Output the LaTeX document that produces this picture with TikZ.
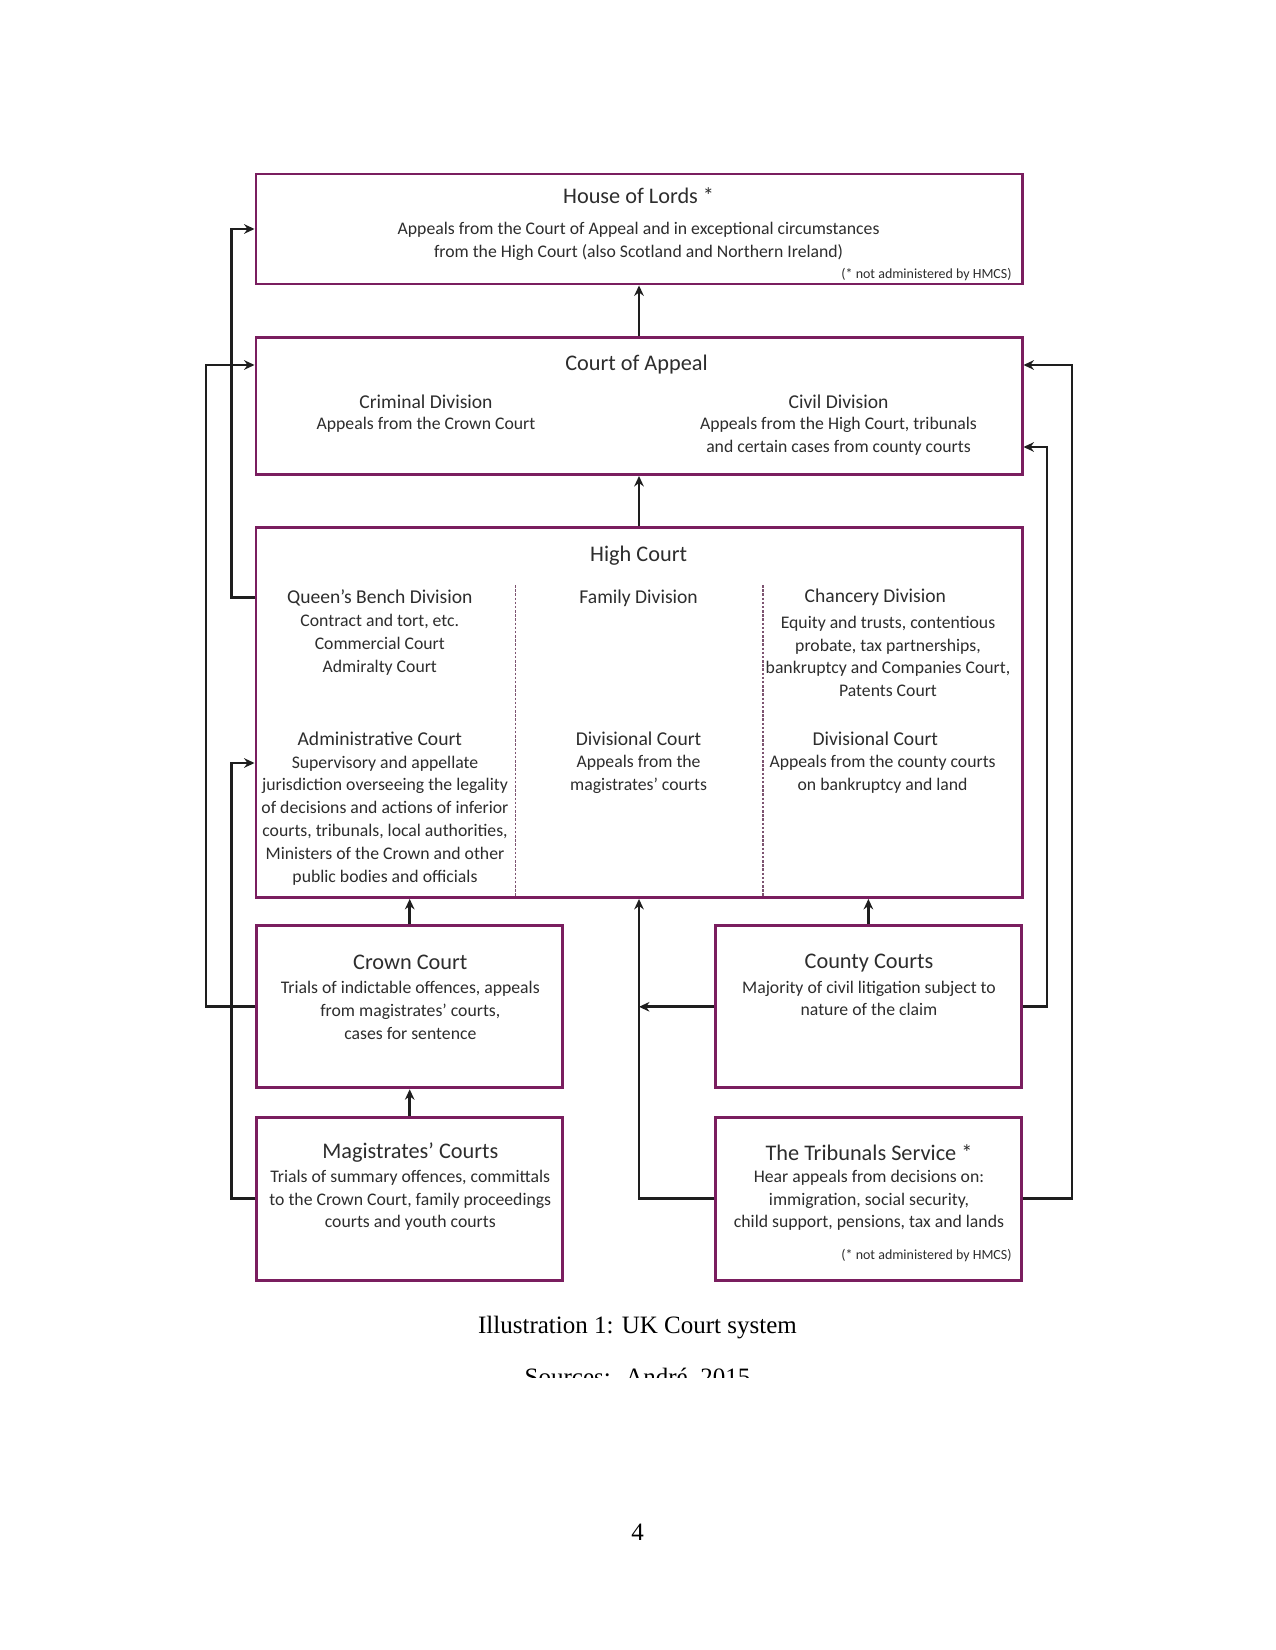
\documentclass[tikz,border=0pt]{standalone}
\usepackage{fontspec}
\setmainfont{Liberation Serif}
\newfontfamily\gill{Carlito}
\usetikzlibrary{arrows.meta}
\definecolor{boxpurple}{RGB}{122,30,95}
\definecolor{txt}{RGB}{45,45,45}
\definecolor{lin}{RGB}{30,30,30}
\begin{document}
\begin{tikzpicture}[x=0.48pt,y=-0.48pt,
  box/.style={draw=boxpurple,line width=1.4pt,inner sep=0pt,fill=white},
  arr/.style={draw=lin,line width=1.3pt,-{Stealth[length=5pt,width=4.6pt]}},
  divider/.style={draw=boxpurple!45!gray,line width=0.8pt,dash pattern=on 1.2pt off 0.8pt},
  ttl/.style={font=\gill\fontsize{10.7}{12}\selectfont,text=txt,inner sep=0pt},
  sub/.style={font=\gill\fontsize{9.4}{11}\selectfont,text=txt,inner sep=0pt},
  body/.style={font=\gill\fontsize{8.5}{11}\selectfont,text=txt,inner sep=0pt,align=center},
  note/.style={font=\gill\fontsize{6.7}{8}\selectfont,text=txt,inner sep=0pt,anchor=east}]
\useasboundingbox (0,0) rectangle (1275,1650);
\fill[white] (0,0) rectangle (1275,1650);

% boxes
\node[box,minimum width=367.7pt,minimum height=52.8pt] (hol) at (639,229) {};
\node[box,minimum width=367.7pt,minimum height=65.7pt] (coa) at (639,406.1) {};
\node[box,minimum width=367.7pt,minimum height=177.4pt] (high) at (639,712.7) {};
\node[box,minimum width=146.9pt,minimum height=77.8pt] (crown) at (409.7,1006.8) {};
\node[box,minimum width=146.9pt,minimum height=77.8pt] (county) at (868.4,1006.8) {};
\node[box,minimum width=146.9pt,minimum height=78.2pt] (mag) at (409.7,1198.8) {};
\node[box,minimum width=146.9pt,minimum height=78.2pt] (trib) at (868.4,1198.8) {};

% House of Lords
\node[ttl] (holt) at (638.6,195.7) {House of Lords *};
\node[body] (holb) at (638.6,241) {Appeals from the Court of Appeal and in exceptional circumstances\\from the High Court (also Scotland and Northern Ireland)};
\node[note] (holn) at (1012,274.6) {(* not administered by HMCS)};

% Court of Appeal
\node[ttl] (coat) at (636.5,365) {Court of Appeal};
\node[sub] (crimt) at (426,402) {Criminal Division};
\node[body] (crimb) at (426,425) {Appeals from the Crown Court};
\node[sub] (civt) at (838.5,402) {Civil Division};
\node[body] (civb) at (838.5,436.6) {Appeals from the High Court, tribunals\\and certain cases from county courts};

% High Court
\node[ttl] (hight) at (638.6,555.5) {High Court};
\node[sub] (qbt) at (379.8,597.5) {Queen’s Bench Division};
\node[body] (qbb) at (379.8,644.9) {Contract and tort, etc.\\Commercial Court\\Admiralty Court};
\node[sub] (famt) at (638.6,598.6) {Family Division};
\node[sub] (chat) at (875.3,597.5) {Chancery Division};
\node[body] (chab) at (888,656.4) {Equity and trusts, contentious\\probate, tax partnerships,\\bankruptcy and Companies Court,\\Patents Court};
\node[sub] (admt) at (379.8,738.5) {Administrative Court};
\node[body] (admb) at (385,820.6) {Supervisory and appellate\\jurisdiction overseeing the legality\\of decisions and actions of inferior\\courts, tribunals, local authorities,\\Ministers of the Crown and other\\public bodies and officials};
\node[sub] (divmt) at (638.6,738.5) {Divisional Court};
\node[body] (divmb) at (638.6,774.3) {Appeals from the\\magistrates’ courts};
\node[sub] (divrt) at (875.3,738.5) {Divisional Court};
\node[body] (divrb) at (882.6,774.3) {Appeals from the county courts\\on bankruptcy and land};
\draw[divider] (515.5,585) -- (515.5,896);
\draw[divider] (762.7,585) -- (762.7,896);

% lower boxes
\node[ttl] (crownt) at (410.3,962.6) {Crown Court};
\node[body] (crownb) at (410.3,1010) {Trials of indictable offences, appeals\\from magistrates’ courts,\\cases for sentence};
\node[ttl] (countyt) at (869,962.6) {County Courts};
\node[body] (countyb) at (869,998.4) {Majority of civil litigation subject to\\nature of the claim};
\node[ttl] (magt) at (410.3,1153) {Magistrates’ Courts};
\node[body] (magb) at (410.3,1200.3) {Trials of summary offences, committals\\to the Crown Court, family proceedings\\courts and youth courts};
\node[ttl] (tribt) at (869,1153) {The Tribunals Service *};
\node[body] (tribb) at (869,1200.3) {Hear appeals from decisions on:\\immigration, social security,\\child support, pensions, tax and lands};
\node[note] (tribn) at (1012,1256) {(* not administered by HMCS)};

% routing coordinates
\coordinate (l1) at (231.5,0);
\coordinate (l2) at (206,0);
\coordinate (r1) at (1047,0);
\coordinate (r2) at (1072,0);
\coordinate (adma) at (256,763);
\coordinate (civa) at (1022,447);

% connectors
\draw[arr] (coa.north) -- (hol.south);
\draw[arr] (high.north) -- (coa.south);
\draw[arr] (crown.north) -- (crown.north |- high.south);
\draw[arr] (county.north) -- (county.north |- high.south);
\draw[arr] (mag.north) -- (crown.south);
\draw[arr] (trib.west) -| (high.south);
\draw[arr] (county.west) -- (county.west -| high.south);
\draw[arr] (high.west |- qbt) -- (l1 |- qbt) -- (l1 |- hol.west) -- (hol.west);
\draw[arr] (crown.west) -- (l2 |- crown.west) -- (l2 |- coat) -- (coa.west |- coat);
\draw[arr] (mag.west) -- (l1 |- mag.west) -- (l1 |- adma) -- (high.west |- adma);
\draw[arr] (county.east) -- (r1 |- county.east) -- (r1 |- civa) -- (coa.east |- civa);
\draw[arr] (trib.east) -- (r2 |- trib.east) -- (r2 |- coat) -- (coa.east |- coat);

% caption
\node[font=\fontsize{12}{14}\selectfont,anchor=base] (cap) at (637.5,1333) {Illustration 1: UK Court system};
\begin{scope}
\clip (0,1340) rectangle (1275,1377);
\node[font=\fontsize{12}{14}\selectfont,anchor=base] (src) at (637.5,1385.5) {Sources:\hspace{7pt}André, 2015};
\end{scope}
\node[font=\fontsize{12}{14}\selectfont] (pg) at (637.5,1532) {4};
\end{tikzpicture}
\end{document}
